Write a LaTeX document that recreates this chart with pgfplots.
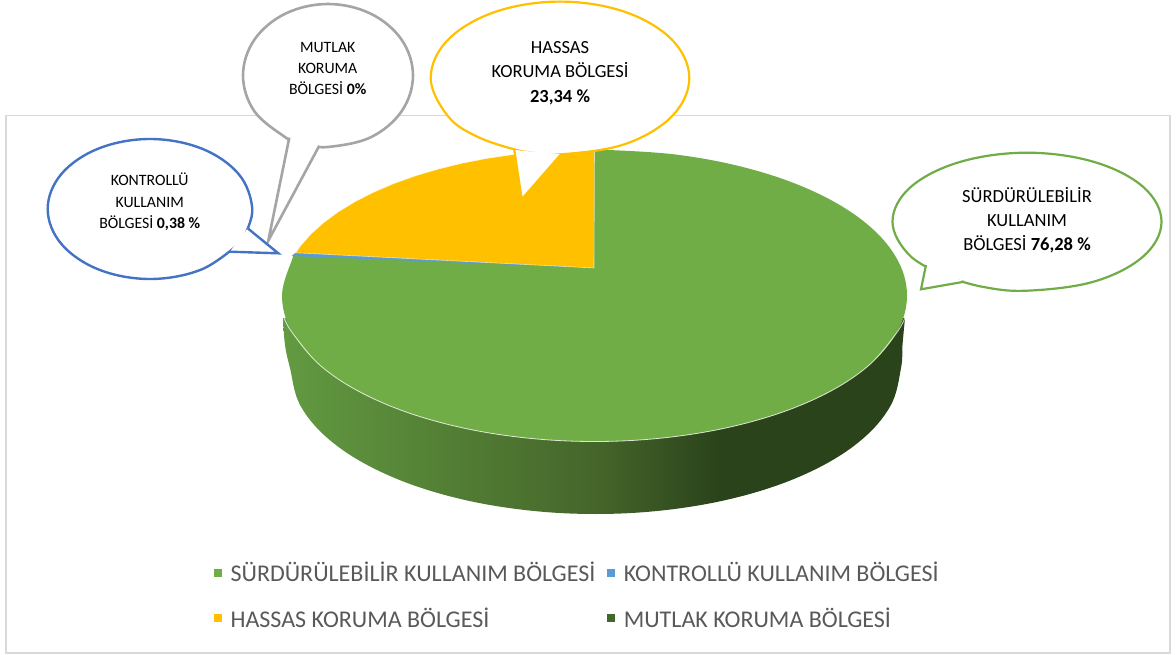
\documentclass[border=0pt]{standalone}
\usepackage{fontspec}
\setmainfont{Carlito}
\usepackage{pgfplots}
\pgfplotsset{compat=1.18}

\definecolor{pgreen}{HTML}{70AD47}
\definecolor{pblue}{HTML}{5B9BD5}
\definecolor{pyellow}{HTML}{FFC000}
\definecolor{pdark}{HTML}{43682B}
\definecolor{cblue}{HTML}{4472C4}
\definecolor{cgray}{HTML}{A5A5A5}
\definecolor{frame}{HTML}{D9D9D9}
\definecolor{legtext}{HTML}{595959}
\definecolor{rim0}{HTML}{629A41}
\definecolor{rim1}{HTML}{4E7631}
\definecolor{rim2}{HTML}{44652A}
\definecolor{rim3}{HTML}{2B431B}
\pgfdeclarehorizontalshading{rim}{100bp}{
  color(0bp)=(rim0); color(25bp)=(rim0); color(42.4bp)=(rim1);
  color(50.5bp)=(rim2); color(60bp)=(rim3); color(100bp)=(rim3)}

\begin{document}
\begin{tikzpicture}
\begin{axis}[
    scale only axis,
    width=1176pt, height=655pt,
    xmin=0, xmax=1176, ymin=0, ymax=655,
    y dir=reverse,
    hide axis,
    clip=false,
    tension=0.62,
    legend columns=2,
    legend cell align=left,
    legend style={
        draw=none, fill=none,
        at={(axis cs:214,560)}, anchor=north west,
        font=\fontsize{24}{24}\selectfont\color{legtext},
        inner xsep=0pt, inner ysep=0pt,
        /tikz/every odd column/.append style={column sep=7pt},
        /tikz/every even column/.append style={column sep=10pt},
        row sep=20.3pt,
    },
    legend image code/.code={\fill[#1] (0pt,-3.5pt) rectangle (7pt,3.5pt);},
]
% keeps the page as large as the axis
\addplot[draw=none, forget plot] coordinates {(0,0) (1176,655)};
% chart frame
\addplot[frame, line width=1.2pt, forget plot] coordinates {(6,115.5) (1170,115.5) (1170,653) (6,653) (6,115.5)};

% side wall of the pie
\addplot[shading=rim, draw=none, smooth, forget plot] coordinates {
    (905,318) (902.5,345) (901,368) (890.5,405.8) (860.1,441) (811.5,471.2)
    (748.3,494.4) (674.5,509) (595.5,514) (516.5,509) (442.7,494.4) (379.5,471.2)
    (330.9,441) (300.5,405.8) (290,368) (285,345) (283,318)};

% top face: green slice, arc from the top clockwise round to the left edge
\addplot[fill=pgreen, draw=none, smooth, forget plot] coordinates {
    (594.5,149.5) (675.4,154.5) (750.8,169.1) (815.5,192.3) (865.1,222.5) (896.3,257.7)
    (907,295.5) (896.3,333.3) (865.1,368.5) (815.5,398.7) (750.8,421.9) (675.4,436.5)
    (594.5,441.5) (513.6,436.5) (438.2,421.9) (373.5,398.7) (323.9,368.5) (292.7,333.3)
    (282,295.5) (292.7,257.7) (294,254)};
% light edge along the front of the top face
\addplot[white, opacity=0.8, line width=0.8pt, smooth, forget plot] coordinates {
    (906,315) (896.3,333.3) (865.1,368.5) (815.5,398.7) (750.8,421.9) (675.4,436.5)
    (594.5,441.5) (513.6,436.5) (438.2,421.9) (373.5,398.7) (323.9,368.5) (292.7,333.3)
    (283,315)};
% blue sliver (0,38 %)
\addplot[fill=pblue, draw=none, forget plot] coordinates {(594,268) (296,252.8) (291.5,256)};
% yellow slice
\addplot[fill=pyellow, draw=white, draw opacity=0.6, line width=0.6pt, forget plot] coordinates {
    (594,268) (594.5,149.5) (567.3,150) (540.2,151.7) (513.6,154.5) (487.6,158.3)
    (462.4,163.2) (438.2,169.1) (415.3,175.9) (393.6,183.7) (373.5,192.3) (355.1,201.7)
    (338.5,211.8) (323.9,222.5) (311.3,233.8) (300.8,245.6) (295.7,252.8) (594,268)};

% callouts: arc runs a little past the gap, the white tail hides the overlap
\addplot[fill=white, draw=cgray, line width=2.6pt, smooth, forget plot] coordinates {
    (306,144.6) (328,147) (370.5,137.4) (401.6,111.3) (413,75.5) (401.6,39.7) (370.5,13.6)
    (328,4) (285.5,13.6) (254.4,39.7) (243,75.5) (254.4,111.3) (285.5,137.4) (296.2,141.8)};
\addplot[fill=white, draw=cgray, line width=2.6pt, forget plot] coordinates {(289.3,137.7) (268.3,240.7) (319.3,145.7)};

\addplot[fill=white, draw=cblue, line width=2.4pt, smooth, forget plot] coordinates {
    (238.6,244) (201.2,269.6) (150,279) (98.9,269.6) (61.4,244) (47.7,209) (61.4,174)
    (98.9,148.4) (150,139) (201.2,148.4) (238.6,174) (252.3,209) (243.5,237.5)};
\addplot[fill=white, draw=cblue, line width=2.4pt, forget plot] coordinates {(247.7,228.3) (278.3,253.3) (230,251.7)};

\addplot[fill=white, draw=pyellow, line width=2.2pt, smooth, forget plot] coordinates {
    (526.5,151.8) (560,154.4) (624.7,144.2) (672,116.2) (689.3,78) (672,39.8) (624.7,11.8) (560,1.6)
    (495.4,11.8) (448,39.8) (430.7,78) (448,116.2) (476.9,136.5) (515.8,149.8) (537.5,153.2)};
\addplot[fill=white, draw=pyellow, line width=2.2pt, forget plot] coordinates {(514.3,150) (521.7,199.3) (561,154.3)};

\addplot[fill=white, draw=pgreen, line width=2.2pt, smooth, forget plot] coordinates {
    (940.5,274.6) (981,286.5) (1027,290.7) (1094.3,281.5) (1143.5,256.2) (1161.5,221.7) (1143.5,187.2)
    (1094.3,162) (1027,152.7) (959.8,162) (910.5,187.2) (892.5,221.7) (910.5,256.2) (949.9,278.2)};
\addplot[fill=white, draw=pgreen, line width=2.2pt, forget plot] coordinates {(926,265) (921,289.3) (964.3,281.7)};

% legend
\addlegendimage{pgreen}
\addlegendentry{SÜRDÜRÜLEBİLİR KULLANIM BÖLGESİ}
\addlegendimage{pblue}
\addlegendentry{KONTROLLÜ KULLANIM BÖLGESİ}
\addlegendimage{pyellow}
\addlegendentry{HASSAS KORUMA BÖLGESİ}
\addlegendimage{pdark}
\addlegendentry{MUTLAK KORUMA BÖLGESİ}

% callout text
\node[align=center, font=\fontsize{15.8}{21}\selectfont] at (axis cs:327.7,68)
    {MUTLAK\\KORUMA\\BÖLGESİ \textbf{0\%}};
\node[align=center, font=\fontsize{15.8}{21.5}\selectfont] at (axis cs:149.7,202)
    {KONTROLLÜ\\KULLANIM\\BÖLGESİ \textbf{0,38 \%}};
\node[align=center, font=\fontsize{18.5}{24.5}\selectfont] at (axis cs:560,73)
    {HASSAS\\KORUMA BÖLGESİ\\\textbf{23,34 \%}};
\node[align=center, font=\fontsize{18.5}{24}\selectfont] at (axis cs:1027,220.7)
    {SÜRDÜRÜLEBİLİR\\KULLANIM\\BÖLGESİ \textbf{76,28 \%}};
\end{axis}
\end{tikzpicture}
\end{document}
